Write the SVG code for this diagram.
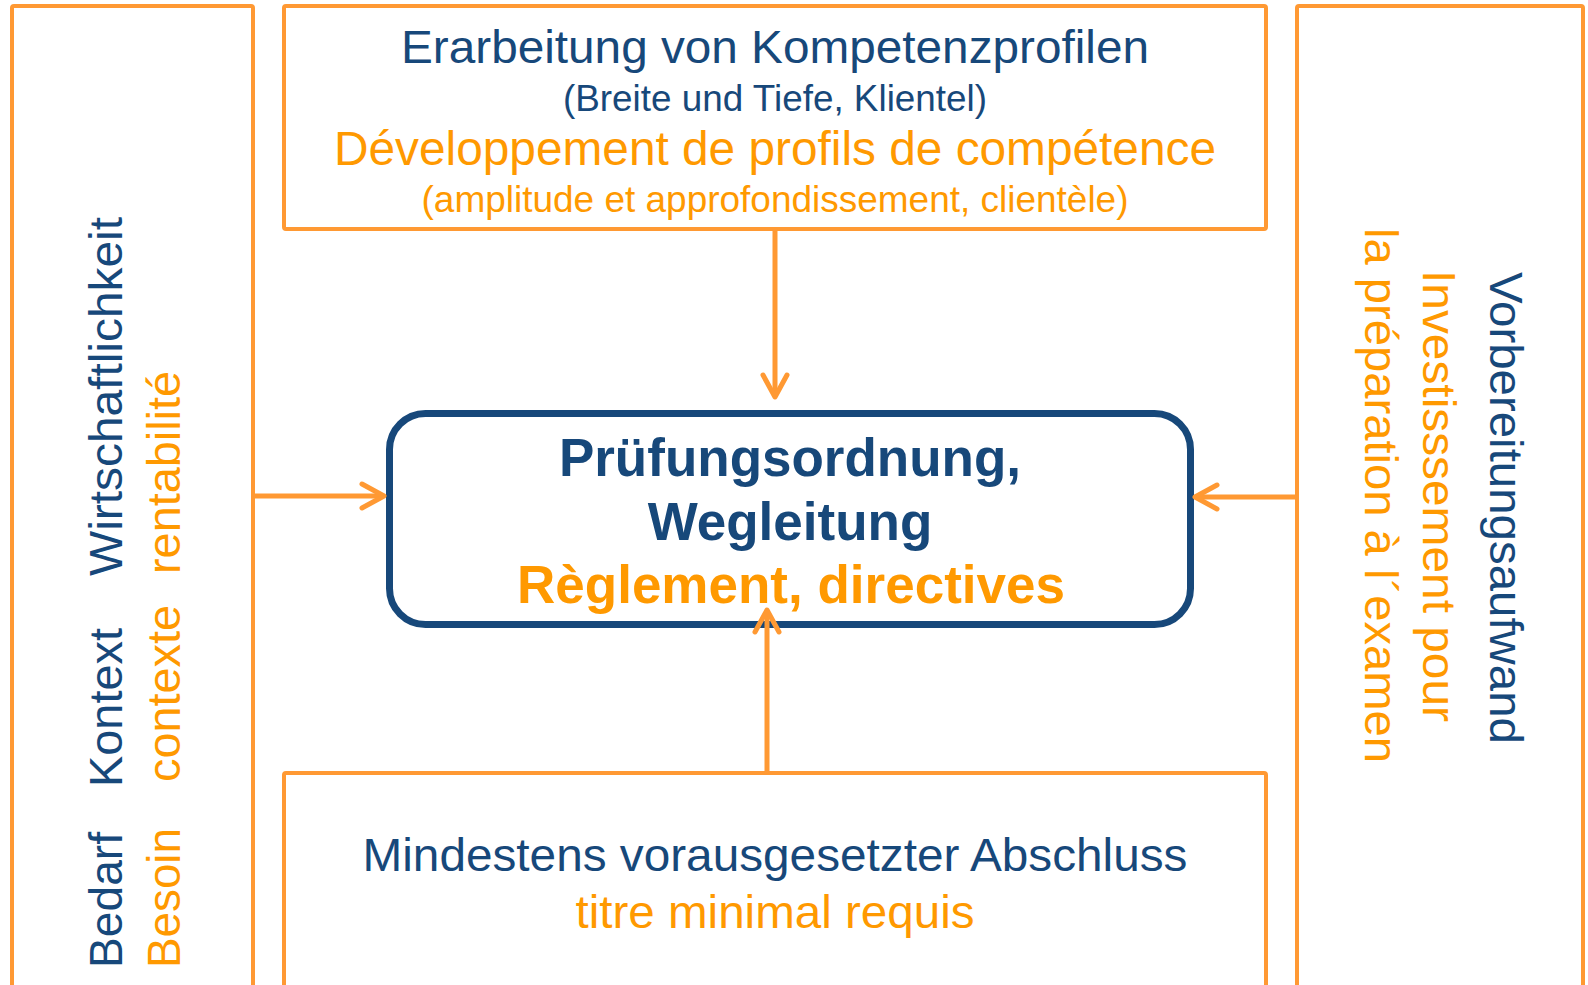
<svg xmlns="http://www.w3.org/2000/svg" width="1588" height="985" viewBox="0 0 1588 985">
  <style>
    .frame { fill: #FFFFFF; stroke: #FF9933; stroke-width: 4; }
    .core { fill: #FFFFFF; stroke: #17487A; stroke-width: 7; }
    .conn { fill: none; stroke: #FF9933; stroke-width: 5; }
    text { font-family: "Liberation Sans", Arial, sans-serif; }
    .de { fill: #17487A; }
    .fr { fill: #FF9900; }
    .mid { text-anchor: middle; }
    .big { font-size: 47px; }
    .small { font-size: 36.5px; }
    .bold { font-size: 53px; font-weight: bold; }
  </style>
  <defs>
    <marker id="arrow" markerUnits="userSpaceOnUse" markerWidth="40" markerHeight="40" refX="0" refY="0" orient="auto" overflow="visible">
      <path d="M-22,-12 L0,0 L-22,12" fill="none" stroke="#FF9933" stroke-width="5" stroke-linecap="round" stroke-linejoin="round"/>
    </marker>
  </defs>
  <rect width="1588" height="985" fill="#FFFFFF"/>

  <g id="left-context">
    <rect class="frame" x="12" y="6" width="241" height="1000" rx="2"/>
    <text class="de big" transform="translate(122,968) rotate(-90)" textLength="136" lengthAdjust="spacingAndGlyphs">Bedarf</text>
    <text class="de big" transform="translate(122,787) rotate(-90)" textLength="159" lengthAdjust="spacingAndGlyphs">Kontext</text>
    <text class="de big" transform="translate(122,576) rotate(-90)" textLength="359" lengthAdjust="spacingAndGlyphs">Wirtschaftlichkeit</text>
    <text class="fr big" transform="translate(180,968) rotate(-90)" textLength="140" lengthAdjust="spacingAndGlyphs">Besoin</text>
    <text class="fr big" transform="translate(180,782) rotate(-90)" textLength="177" lengthAdjust="spacingAndGlyphs">contexte</text>
    <text class="fr big" transform="translate(180,574) rotate(-90)" textLength="203" lengthAdjust="spacingAndGlyphs">rentabilité</text>
  </g>

  <g id="top-profiles">
    <rect class="frame" x="284" y="6" width="982" height="223" rx="2"/>
    <text class="de big mid" x="775" y="63" textLength="748" lengthAdjust="spacingAndGlyphs">Erarbeitung von Kompetenzprofilen</text>
    <text class="de small mid" x="775" y="111" textLength="424" lengthAdjust="spacingAndGlyphs">(Breite und Tiefe, Klientel)</text>
    <text class="fr mid" style="font-size:48px" x="775" y="165" textLength="882" lengthAdjust="spacingAndGlyphs">Développement de profils de compétence</text>
    <text class="fr small mid" x="775" y="212" textLength="707" lengthAdjust="spacingAndGlyphs">(amplitude et approfondissement, clientèle)</text>
  </g>

  <g id="right-preparation">
    <rect class="frame" x="1297" y="6" width="286" height="1000" rx="2"/>
    <text class="de big" transform="translate(1490,272) rotate(90)" textLength="472" lengthAdjust="spacingAndGlyphs">Vorbereitungsaufwand</text>
    <text class="fr big" transform="translate(1423,270) rotate(90)" textLength="452" lengthAdjust="spacingAndGlyphs">Investisssement pour</text>
    <text class="fr big" transform="translate(1365,228) rotate(90)" textLength="535" lengthAdjust="spacingAndGlyphs">la préparation à l´examen</text>
  </g>

  <g id="bottom-degree">
    <rect class="frame" x="284" y="773" width="982" height="240" rx="2"/>
    <text class="de big mid" x="775" y="871" textLength="825" lengthAdjust="spacingAndGlyphs">Mindestens vorausgesetzter Abschluss</text>
    <text class="fr big mid" x="775" y="928" textLength="399" lengthAdjust="spacingAndGlyphs">titre minimal requis</text>
  </g>

  <g id="center-regulation">
    <rect class="core" x="389.5" y="413.5" width="801" height="211" rx="36"/>
    <text class="de bold mid" x="790" y="476">Prüfungsordnung,</text>
    <text class="de bold mid" x="790" y="540">Wegleitung</text>
    <text class="fr bold mid" x="791" y="603">Règlement, directives</text>
  </g>

  <g id="connectors">
    <line class="conn" x1="775" y1="229" x2="775" y2="397" marker-end="url(#arrow)"/>
    <line class="conn" x1="253" y1="496" x2="384" y2="496" marker-end="url(#arrow)"/>
    <line class="conn" x1="1297" y1="497" x2="1195" y2="497" marker-end="url(#arrow)"/>
    <line class="conn" x1="767" y1="773" x2="767" y2="610" marker-end="url(#arrow)"/>
  </g>
</svg>
